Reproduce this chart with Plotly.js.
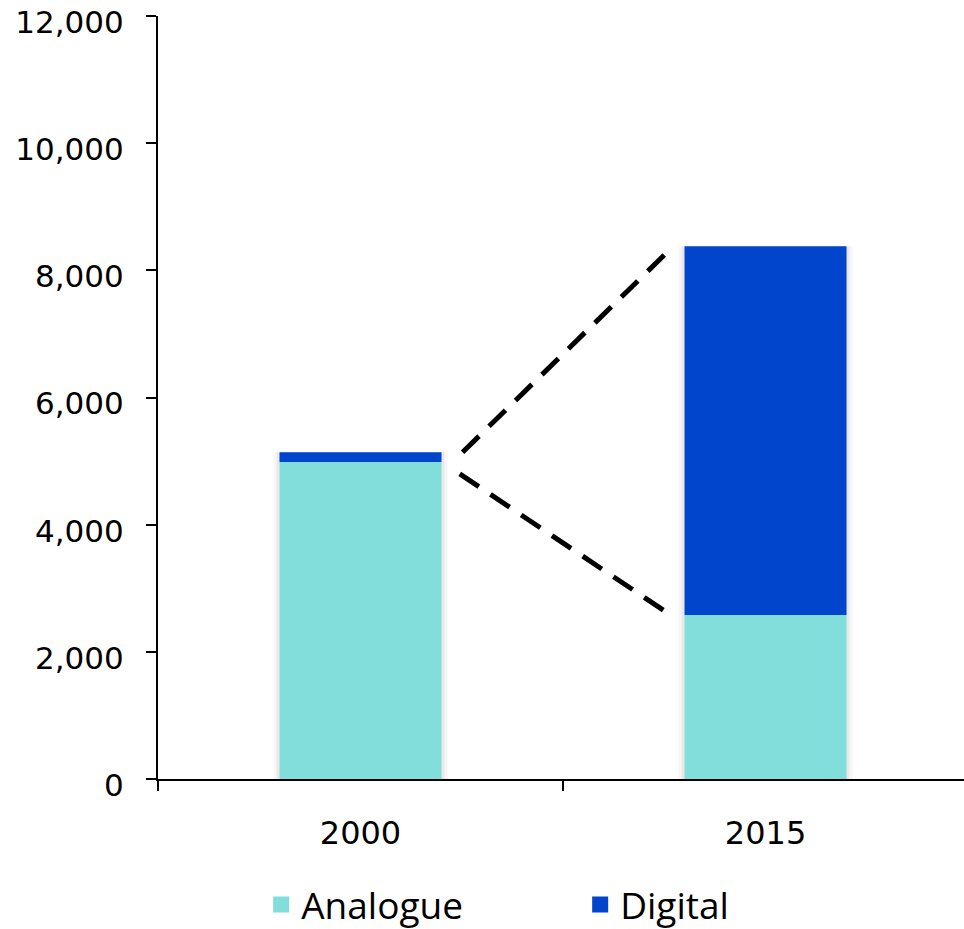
<!DOCTYPE html>
<html>
<head>
<meta charset="utf-8">
<script src="https://cdn.plot.ly/plotly-3.0.1.min.js"></script>
<style>html,body{margin:0;padding:0;background:#fff;}#chart{width:964px;height:929px;}</style>
</head>
<body>
<div id="chart"></div>
<script>
// ---- data ----
var years = ['2000', '2015'];
var yearPos = [0, 1];
var analogue = [4985, 2580];
var digital = [155, 5800];
// connector (dashed) lines
var upperX = [0.252, 0.758];
var upperY = [5140, 8290];
var lowerX = [0.245, 0.763];
var lowerY = [4800, 2590];
var yTicks = [0, 2000, 4000, 6000, 8000, 10000, 12000];

var cAnalogue = '#82DEDB';
var cDigital = '#0145CC';
var totals = analogue.map(function (v, i) { return v + digital[i]; });

var traces = [
  { type: 'bar', x: yearPos, y: totals, width: 0.43, marker: { color: 'rgba(0,0,0,0.035)' }, showlegend: false, hoverinfo: 'skip' },
  { type: 'bar', x: yearPos, y: totals, width: 0.415, marker: { color: 'rgba(0,0,0,0.05)' }, showlegend: false, hoverinfo: 'skip' },
  { type: 'bar', name: 'Analogue', x: yearPos, y: analogue, width: 0.4, marker: { color: cAnalogue }, showlegend: false },
  { type: 'bar', name: 'Digital', x: yearPos, y: digital, base: analogue, width: 0.4, marker: { color: cDigital }, showlegend: false },
  { type: 'scatter', mode: 'lines', x: upperX, y: upperY, line: { color: '#000', width: 5, dash: '23px,14px' }, showlegend: false, hoverinfo: 'skip' },
  { type: 'scatter', mode: 'lines', x: lowerX, y: lowerY, line: { color: '#000', width: 5, dash: '23px,14px' }, showlegend: false, hoverinfo: 'skip' },
  { type: 'scatter', mode: 'markers', name: 'Analogue', x: [null], y: [null], marker: { symbol: 'square', size: 19, color: cAnalogue } },
  { type: 'scatter', mode: 'markers', name: 'Digital', x: [null], y: [null], marker: { symbol: 'square', size: 19, color: cDigital } }
];

var layout = {
  width: 964, height: 929,
  margin: { l: 158, r: 0, t: 15.5, b: 149.7, pad: 0, autoexpand: false },
  paper_bgcolor: '#fff', plot_bgcolor: '#fff',
  barmode: 'overlay',
  showlegend: true,
  font: { family: 'DejaVu Sans, sans-serif', color: '#000' },
  xaxis: {
    type: 'linear', range: [-0.5, 1.49], fixedrange: true, automargin: false,
    tickmode: 'array', tickvals: yearPos, ticktext: years,
    ticks: '', ticklen: 0, ticklabelstandoff: 25,
    tickfont: { family: 'DejaVu Sans, sans-serif', size: 32, color: '#000' },
    showline: true, linecolor: '#000', linewidth: 2,
    showgrid: false, zeroline: false,
    minor: { tickmode: 'array', tickvals: [-0.5, 0.5], ticks: 'outside', ticklen: 10, tickwidth: 2, tickcolor: '#000', showgrid: false }
  },
  yaxis: {
    range: [0, 12000], fixedrange: true, automargin: false,
    tickmode: 'array', tickvals: yTicks, tickformat: ',d',
    ticks: 'outside', ticklen: 10, tickwidth: 2, tickcolor: '#000',
    ticklabelstandoff: 16, ticklabeloverflow: 'allow', ticklabelshift: 6,
    tickfont: { family: 'DejaVu Sans, sans-serif', size: 31, color: '#000' },
    showline: true, linecolor: '#000', linewidth: 2,
    showgrid: false, zeroline: false
  },
  legend: {
    orientation: 'h', x: 0.128, xanchor: 'left', y: -0.165, yanchor: 'middle',
    font: { family: 'Open Sans, sans-serif', size: 37, color: '#000' },
    itemsizing: 'trace', entrywidth: 274, bgcolor: 'rgba(0,0,0,0)', traceorder: 'normal'
  }
};

Plotly.newPlot('chart', traces, layout, { displayModeBar: false, staticPlot: true });
</script>
</body>
</html>
